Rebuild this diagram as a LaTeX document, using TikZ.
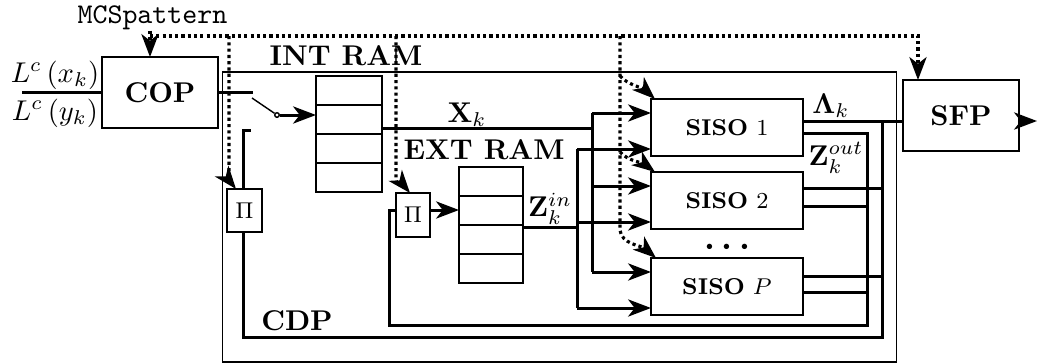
\documentclass[tikz,border=0pt]{standalone}
\usepackage{bm}
\usetikzlibrary{arrows.meta,calc}
\begin{document}
\begin{tikzpicture}[x=0.35pt,y=-0.35pt,
  box/.style={draw,line width=0.5pt,inner sep=0pt,outer sep=0pt},
  sz/.style 2 args={minimum width=#1*0.35pt,minimum height=#2*0.35pt},
  bus/.style={line width=1.05pt},
  thinl/.style={line width=0.5pt},
  arr/.style={-{Stealth[length=8pt,width=6pt,inset=2.3pt]}},
  ctrl/.style={line width=1.1pt,dash pattern=on 1.1pt off 1.1pt},
  lbl/.style={inner sep=0pt},
  sisobox/.style={box,sz={152}{57},font=\footnotesize},
]
\useasboundingbox (0,0) rectangle (1040,363);

% outer CDP frame
\node[box,line width=0.45pt,sz={674}{290}] (cdp) at (559.5,217) {};
\node[lbl,font=\bfseries] (cdplbl) at (297,321) {CDP};

% blocks
\node[box,sz={116}{71}] (cop) at (160,92.5) {\textbf{COP}};
\node[box,sz={116}{71}] (sfp) at (961,115.5) {\textbf{SFP}};
\node[box,sz={66}{116}] (intram) at (349,134) {};
\node[box,sz={64}{116}] (extram) at (491,225) {};
\foreach \r in {intram,extram}{
  \foreach \f in {0.25,0.5,0.75}
    \draw[thinl] ($(\r.north west)!\f!(\r.south west)$) -- ($(\r.north east)!\f!(\r.south east)$);
}
\node[lbl,font=\bfseries] (intlbl) at (346,56) {INT RAM};
\node[lbl,font=\bfseries] (extlbl) at (484,150) {EXT RAM};
\node[box,sz={35}{43},font=\footnotesize] (pi1) at (244.5,210.5) {$\Pi$};
\node[box,sz={34}{44},font=\footnotesize] (pi2) at (413,215) {$\Pi$};
\node[sisobox] (siso1) at (727,127.5) {\textbf{SISO}~$1$};
\node[sisobox] (siso2) at (727,200.5) {\textbf{SISO}~$2$};
\node[sisobox] (sisoP) at (727,286.5) {\textbf{SISO}~$P$};
\node[lbl,font=\large] (dots) at (727,247) {$\bm{\cdots}$};

% labels
\node[lbl,font=\ttfamily] (mcs) at (152.5,18) {MCSpattern};
\node[lbl] (lx) at (55,75) {$L^c\left(x_k\right)$};
\node[lbl] (ly) at (55,113) {$L^c\left(y_k\right)$};
\node[lbl] (xklbl) at (467,115) {$\mathbf{X}_k$};
\node[lbl] (zinlbl) at (550,209) {$\mathbf{Z}_k^{in}$};
\node[lbl] (lamlbl) at (831,106) {$\mathbf{\Lambda}_k$};
\node[lbl] (zoutlbl) at (836,158) {$\mathbf{Z}_k^{out}$};

% coordinates
\coordinate (in) at (22,92.5);
\coordinate (swA) at (253,92.5);
\coordinate (swL) at (252,98);
\coordinate (swB) at (251,130);
\coordinate (lamJ) at (882,121);
\coordinate (lamB) at (882,337);
\coordinate (out) at (1037,121);
\coordinate (zoTop) at (867,133);
\coordinate (zoBot) at (867,325);
\coordinate (zoL) at (389,325);
\coordinate (zoIn) at (389,210);
\coordinate (xk) at (592,128);
\coordinate (zi) at (577,227);
\coordinate (c0) at (150,36);
\coordinate (c1) at (229,36);
\coordinate (c2) at (396,36);
\coordinate (c3) at (620,36);
\coordinate (c4) at (918,36);
\foreach \s in {siso1,siso2,sisoP}{
  \path (\s.north west) ++(0,14) coordinate (\s x) ++(0,36) coordinate (\s z);
}

% input and switch
\draw[bus] (in) -- (cop.west);
\draw[bus] (cop.east) -- (swA);
\node[circle,draw,line width=0.5pt,fill=white,inner sep=0pt,minimum size=1.6pt] (piv) at (277,115) {};
\draw[thinl] (swL) -- (piv);
\draw[bus,arr] (piv.east) -- (piv.east -| intram.west);
\draw[bus] (pi1.north -| 243,0) -- (swB -| 243,0) -- (swB);

% feedback from SISO outputs
\draw[bus] (pi1.south -| 243,0) -- (lamB -| 243,0) -- (lamB) -- (lamJ);
\draw[bus] (siso1.east |- lamJ) -- (sfp.west |- lamJ);
\draw[bus,arr] (sfp.east |- lamJ) -- (out);
\draw[bus] (siso1.east |- zoTop) -- (zoTop) -- (zoBot) -- (zoL) -- (zoIn) -- (zoIn -| pi2.west);
\draw[bus] ($(siso2.north east)+(0,16)$) coordinate (a2) -- (a2 -| lamJ);
\draw[bus] ($(siso2.north east)+(0,34)$) coordinate (b2) -- (b2 -| zoTop);
\draw[bus] ($(sisoP.north east)+(0,18)$) coordinate (aP) -- (aP -| lamJ);
\draw[bus] ($(sisoP.north east)+(0,34)$) coordinate (bP) -- (bP -| zoTop);
\draw[bus,arr] (zoIn -| pi2.east) -- (zoIn -| extram.west);

% X_k and Z_in buses
\draw[bus] (intram.east |- xk) -- (xk);
\draw[bus] (siso1x -| xk) -- (sisoPx -| xk);
\draw[bus] (extram.east |- zi) -- (zi);
\draw[bus] (siso1z -| zi) -- (sisoPz -| zi);
\foreach \s in {siso1,siso2,sisoP}{
  \draw[bus,arr] (\s x -| xk) -- (\s x);
  \draw[bus,arr] (\s z -| zi) -- (\s z);
}

% control (MCS pattern) lines
\draw[ctrl,arr] (c0 |- mcs.south) -- (c0 |- cop.north);
\draw[ctrl,arr] (c0) -- (c4) -- (c4 |- sfp.north);
\draw[ctrl,arr] (c1) -- (229,172) .. controls (229,180) and (232,184) .. ($(pi1.north west)+(9,0)$);
\draw[ctrl,arr] (c2) -- (396,178) .. controls (396,186) and (405,187) .. ($(pi2.north)+(-3,0)$);
\draw[ctrl,arr] (c3) -- (620,230) .. controls (621,244) and (642,246) .. ($(sisoP.north west)+(5,0)$);
\draw[ctrl,arr] (620,76) .. controls (628,85) and (643,88) .. ($(siso1.north west)+(4,0)$);
\draw[ctrl,arr] (620,152) .. controls (628,161) and (643,163) .. ($(siso2.north west)+(4,0)$);
\end{tikzpicture}
\end{document}
